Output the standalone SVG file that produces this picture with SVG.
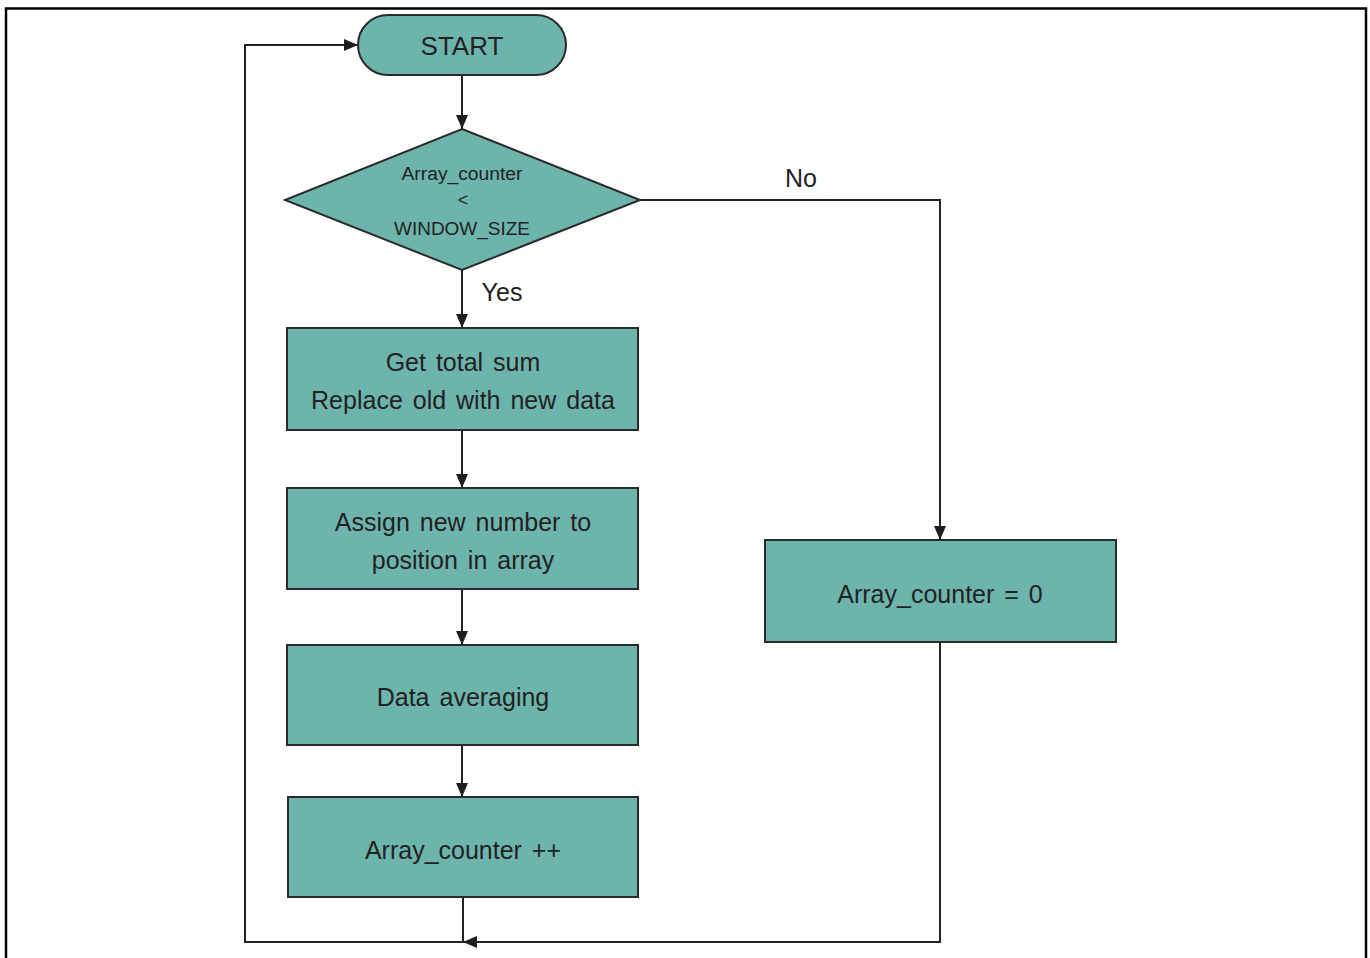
<svg xmlns="http://www.w3.org/2000/svg" width="1370" height="958" viewBox="0 0 1370 958">
<defs>
<marker id="arr" markerWidth="14" markerHeight="12" refX="14" refY="6" orient="auto" markerUnits="userSpaceOnUse">
<path d="M0,0 L14,6 L0,12 Z" fill="#1e1e1e"/>
</marker>
<style>
.shape{fill:#6db4ad;stroke:#2a2a2a;stroke-width:2}
.t{font-family:"Liberation Sans",Arial,sans-serif;fill:#222;text-anchor:middle}
.big{font-size:25px;word-spacing:3px}
.sm{font-size:18px}
.conn{fill:none;stroke:#222;stroke-width:2}
</style>
</defs>
<rect x="0" y="0" width="1370" height="958" fill="#fff"/>
<path d="M6,970 L6,8.5 L1366,8.5 L1366,970" fill="none" stroke="#000" stroke-width="2.5"/>
<g id="connectors">
<line class="conn" x1="462" y1="75" x2="462" y2="129" marker-end="url(#arr)"/>
<line class="conn" x1="462" y1="270" x2="462" y2="328" marker-end="url(#arr)"/>
<polyline class="conn" points="640,200 940,200 940,540" marker-end="url(#arr)"/>
<line class="conn" x1="462" y1="430" x2="462" y2="488" marker-end="url(#arr)"/>
<line class="conn" x1="462" y1="589" x2="462" y2="645" marker-end="url(#arr)"/>
<line class="conn" x1="462" y1="745" x2="462" y2="797" marker-end="url(#arr)"/>
<line class="conn" x1="463" y1="897" x2="463" y2="942"/>
<polyline class="conn" points="940,642 940,942 463,942" marker-end="url(#arr)"/>
<polyline class="conn" points="463,942 245,942 245,45 358,45" marker-end="url(#arr)"/>
<text class="t" x="801" y="187" font-size="25">No</text>
<text class="t" x="502" y="301" font-size="25">Yes</text>
</g>
<g id="start">
<rect class="shape" x="358" y="15" width="208" height="60" rx="30"/>
<text class="t" x="462" y="55" font-size="26">START</text>
</g>
<g id="decision">
<polygon class="shape" points="462,129 640,200 462,270 285,200"/>
<text class="t sm" x="462" y="180" textLength="121" lengthAdjust="spacingAndGlyphs">Array_counter</text>
<text class="t sm" x="463" y="206">&lt;</text>
<text class="t sm" x="462" y="235" textLength="136" lengthAdjust="spacingAndGlyphs">WINDOW_SIZE</text>
</g>
<g id="sum">
<rect class="shape" x="287" y="328" width="351" height="102"/>
<text class="t big" x="463" y="371">Get total sum</text>
<text class="t big" x="463" y="409">Replace old with new data</text>
</g>
<g id="assign">
<rect class="shape" x="287" y="488" width="351" height="101"/>
<text class="t big" x="463" y="531">Assign new number to</text>
<text class="t big" x="463" y="569">position in array</text>
</g>
<g id="avg">
<rect class="shape" x="287" y="645" width="351" height="100"/>
<text class="t big" x="463" y="706">Data averaging</text>
</g>
<g id="inc">
<rect class="shape" x="288" y="797" width="350" height="100"/>
<text class="t big" x="463" y="859">Array_counter ++</text>
</g>
<g id="reset">
<rect class="shape" x="765" y="540" width="351" height="102"/>
<text class="t big" x="940" y="603">Array_counter = 0</text>
</g>
</svg>
